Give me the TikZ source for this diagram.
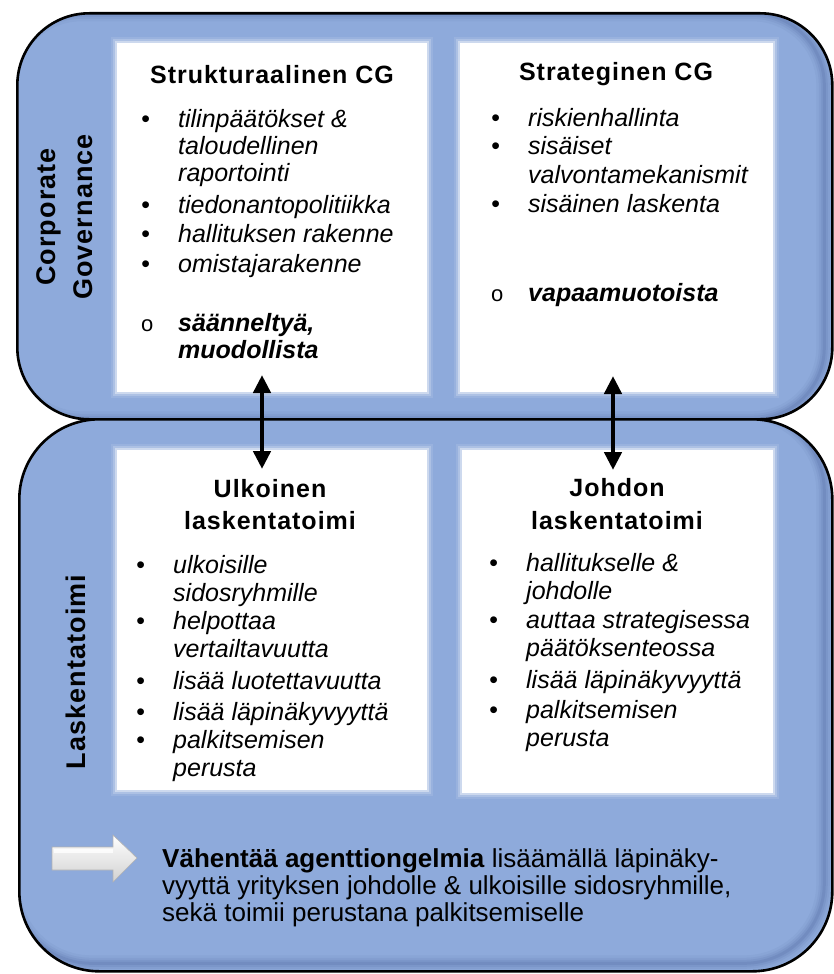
\documentclass[tikz,border=0pt]{standalone}
\usepackage{fontspec}
\setmainfont{Liberation Sans}
\newfontfamily\spacedfont{Liberation Sans}[LetterSpace=4]
\usetikzlibrary{arrows.meta,calc}

\definecolor{panelblue}{RGB}{142,170,219}
\definecolor{paneldark}{RGB}{62,86,140}

% one line of text, set on its baseline
\newcommand\tline[4]{\node[txt,anchor=base west] (#1) at (#2,#3) {#4};}
% bullet column of fixed width, then the item text
\newcommand\bul{\makebox[37pt][l]{\textbullet}}
\newcommand\cir{\makebox[37pt][l]{\upshape\mdseries\fontsize{22}{22}\selectfont o}}
\newcommand\ind{\hspace*{37pt}}

\begin{document}
\begin{tikzpicture}[x=1pt,y=-1pt,
  panel/.style={draw=black,line width=2.6pt,fill=panelblue,
    anchor=north west,inner sep=0pt},
  wbox/.style={fill=white,anchor=north west,inner sep=0pt},
  txt/.style={inner sep=0pt,font=\fontsize{25}{28}\selectfont\itshape},
  ttl/.style={inner sep=0pt,anchor=base,
    font=\fontsize{25}{28}\selectfont\spacedfont\bfseries},
  side/.style={inner sep=0pt,rotate=90,align=center,
    font=\fontsize{27}{37}\selectfont\spacedfont\bfseries},
  dbl/.style={line width=4.5pt,
    {Triangle[width=17pt,length=18pt]}-{Triangle[width=17pt,length=18pt]}},
  inshade/.style={paneldark,rounded corners=#1},
]
\useasboundingbox (0,0) rectangle (833,974);

% ---- the two rounded panels with a soft shade on their lower right ----
\node[panel,minimum width=815pt,minimum height=406pt,rounded corners=72pt,
  path picture={
    \foreach \w/\o in {16/0.06,11/0.08,7/0.10,3/0.14}{
      \draw[inshade=72pt,line width=\w pt,opacity=\o]
        ([xshift=-8pt]path picture bounding box.north west) rectangle
        ([xshift=-8pt]path picture bounding box.south east);}
  }] (cg) at (16,12) {};
\node[panel,minimum width=813pt,minimum height=552pt,rounded corners=80pt,
  path picture={
    \foreach \w/\o in {16/0.06,11/0.08,7/0.10,3/0.14}{
      \draw[inshade=80pt,line width=\w pt,opacity=\o]
        ([shift={(-8pt,8pt)}]path picture bounding box.north west) rectangle
        ([shift={(-8pt,8pt)}]path picture bounding box.south east);}
  }] (lt) at (18,418) {};

% ---- white content boxes with a feathered rim ----
\node[wbox,minimum width=310pt,minimum height=349pt] (tl) at (117,43) {};
\node[wbox,minimum width=313pt,minimum height=349pt] (tr) at (460,43) {};
\node[wbox,minimum width=310pt,minimum height=340pt] (bl) at (117,450) {};
\node[wbox,minimum width=311pt,minimum height=343pt] (br) at (462,450) {};
\foreach \b in {tl,tr,bl,br}{
  \foreach \k/\o in {6/0.1,4/0.2,2/0.4}{
    \fill[white,opacity=\o]
      ([shift={(-\k pt,\k pt)}]\b.north west) rectangle
      ([shift={(\k pt,-\k pt)}]\b.south east);}
}

% ---- side labels ----
\node[side] (cglabel) at (65,217) {Corporate\\Governance};
\node[side] (ltlabel) at (76,672) {Laskentatoimi};

% ---- Strukturaalinen CG ----
\node[ttl] (t1) at (272,83) {Strukturaalinen CG};
\tline{a1}{141}{127}{\bul tilinpäätökset \&}
\tline{a2}{141}{154}{\ind taloudellinen}
\tline{a3}{141}{181}{\ind raportointi}
\tline{a4}{141}{213}{\bul tiedonantopolitiikka}
\tline{a5}{141}{242}{\bul hallituksen rakenne}
\tline{a6}{141}{272}{\bul omistajarakenne}
\tline{a7}{141}{331}{\cir\bfseries säänneltyä,}
\tline{a8}{141}{358}{\ind\bfseries muodollista}

% ---- Strateginen CG ----
\node[ttl] (t2) at (616,81) {Strateginen CG};
\tline{b1}{491}{126}{\bul riskienhallinta}
\tline{b2}{491}{154}{\bul sisäiset}
\tline{b3}{491}{183}{\ind valvontamekanismit}
\tline{b4}{491}{212}{\bul sisäinen laskenta}
\tline{b5}{491}{301}{\cir\bfseries vapaamuotoista}

% ---- Ulkoinen laskentatoimi ----
\node[ttl] (t3) at (270,497) {Ulkoinen};
\node[ttl] (t3b) at (270,529) {laskentatoimi};
\tline{c1}{136}{573}{\bul ulkoisille}
\tline{c2}{136}{601}{\ind sidosryhmille}
\tline{c3}{136}{629}{\bul helpottaa}
\tline{c4}{136}{657}{\ind vertailtavuutta}
\tline{c5}{136}{689}{\bul lisää luotettavuutta}
\tline{c6}{136}{720}{\bul lisää läpinäkyvyyttä}
\tline{c7}{136}{748}{\bul palkitsemisen}
\tline{c8}{136}{776}{\ind perusta}

% ---- Johdon laskentatoimi ----
\node[ttl] (t4) at (617,496) {Johdon};
\node[ttl] (t4b) at (617,529) {laskentatoimi};
\tline{d1}{489}{571}{\bul hallitukselle \&}
\tline{d2}{489}{599}{\ind johdolle}
\tline{d3}{489}{628}{\bul auttaa strategisessa}
\tline{d4}{489}{656}{\ind päätöksenteossa}
\tline{d5}{489}{688}{\bul lisää läpinäkyvyyttä}
\tline{d6}{489}{718}{\bul palkitsemisen}
\tline{d7}{489}{746}{\ind perusta}

% ---- links between the governance and accounting boxes ----
\coordinate (l1a) at (262,375);
\coordinate (l1b) at (262,469);
\coordinate (l2a) at (613,376);
\coordinate (l2b) at (613,470);
\draw[dbl] (l1a) -- (l1b);
\draw[dbl] (l2a) -- (l2b);

% ---- summary with a bevelled white arrow ----
\shade[top color=white,bottom color=black!18,draw=black!30,line width=0.6pt]
  (52,847) -- (113,847) -- (113,835) -- (137,858) -- (113,882)
  -- (113,870) -- (52,870) -- cycle;
\fill[white,opacity=0.8] (54,849) -- (113,849) -- (113,853) -- (54,853) -- cycle;
\begin{scope}[txt/.append style={font=\fontsize{26}{27}\selectfont}]
\tline{s1}{162}{867}{\textbf{Vähentää agenttiongelmia} lisäämällä läpinäky-}
\tline{s2}{162}{894}{vyyttä yrityksen johdolle \& ulkoisille sidosryhmille,}
\tline{s3}{162}{921}{sekä toimii perustana palkitsemiselle}
\end{scope}
\end{tikzpicture}
\end{document}
